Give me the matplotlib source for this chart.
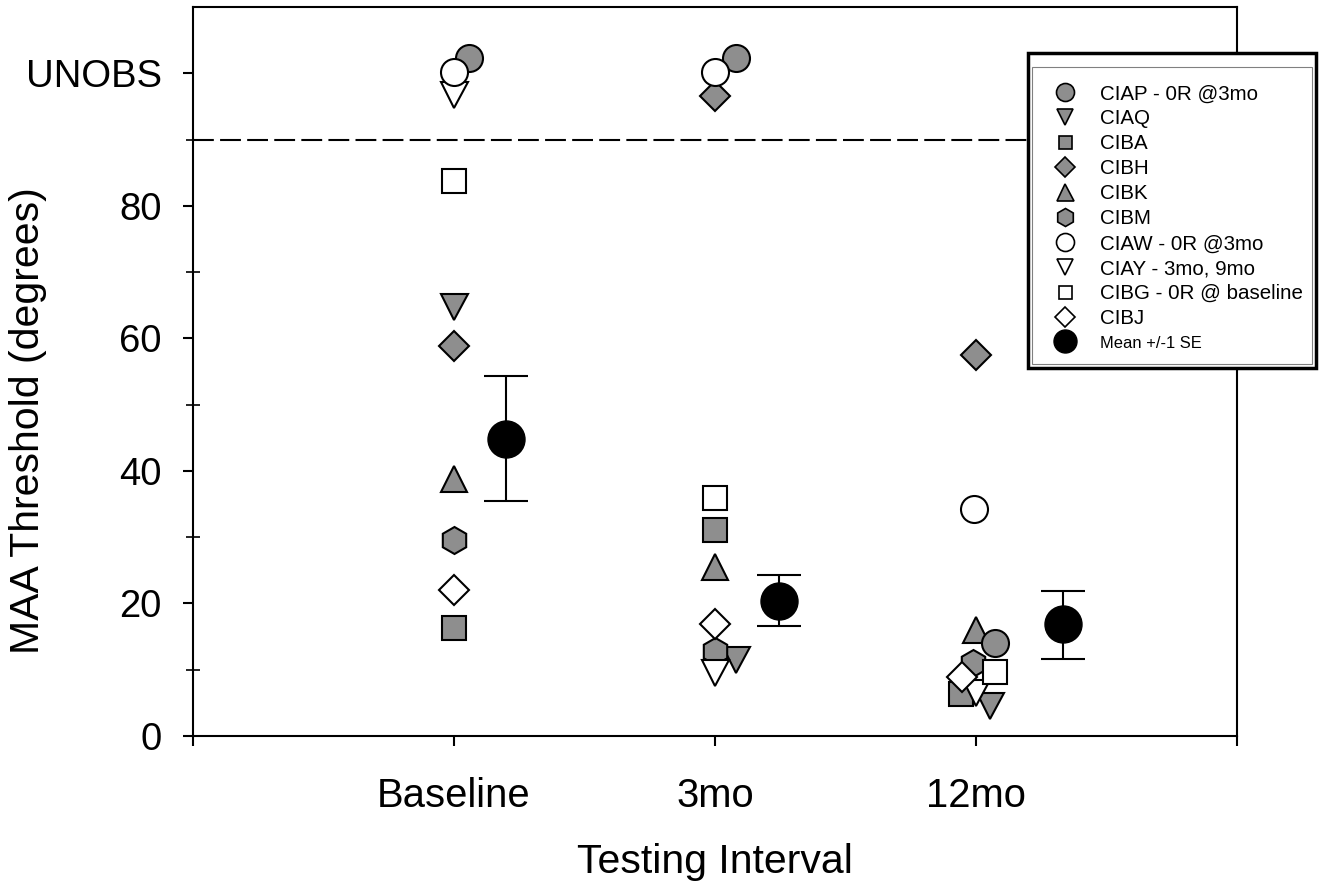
import matplotlib
matplotlib.use("Agg")
import matplotlib.pyplot as plt
from matplotlib.lines import Line2D
from matplotlib.patches import Rectangle

plt.rcParams['font.family'] = ['Liberation Sans', 'DejaVu Sans']

# testing intervals
intervals = ['Baseline', '3mo', '12mo']

# per-subject thresholds (degrees), UNOBS plotted around 100
subjects = ['CIAP - 0R @3mo', 'CIAQ', 'CIBA', 'CIBH', 'CIBK', 'CIBM',
            'CIAW - 0R @3mo', 'CIAY - 3mo, 9mo', 'CIBG - 0R @ baseline', 'CIBJ']
ciap = [102.3, 102.3, 14.0]
ciaq = [64.8, 11.5, 4.5]
ciba = [16.3, 31.1, 6.3]
cibh = [58.9, 96.5, 57.5]
cibk = [38.8, 25.5, 16.0]
cibm = [29.6, 12.8, 11.0]
ciaw = [100.2, 100.2, 34.3]
ciay = [96.7, 9.5, 6.5]
cibg = [83.7, 35.9, 9.7]
cibj = [22.0, 16.9, 8.9]

# group mean +/- 1 SE
mean_vals = [44.8, 20.4, 16.9]
mean_se_hi = [54.3, 24.3, 21.9]
mean_se_lo = [35.5, 16.6, 11.6]

# horizontal jitter used in the original to separate overlapping symbols
jitter = [
    [0.057, 0.08, 0.073],
    [0.0, 0.08, 0.054],
    [0.0, 0.0, -0.057],
    [0.0, 0.0, 0.0],
    [0.0, 0.0, 0.0],
    [0.0, 0.0, -0.01],
    [0.0, 0.0, -0.008],
    [0.0, 0.0, 0.0],
    [0.0, 0.0, 0.073],
    [0.0, 0.0, -0.054],
]
mean_offset = [0.2, 0.245, 0.333]

values = [ciap, ciaq, ciba, cibh, cibk, cibm, ciaw, ciay, cibg, cibj]

PX = 72.0 / 100  # points per pixel at dpi 100
gray = '#8e8e8e'
# marker, face, size in plot (px), size in legend (px), zorder
styles = [
    ('o', gray, 27, 18, 5),
    ('v', gray, 27, 16, 4),
    ('s', gray, 24, 13, 4),
    ('D', gray, 21, 14, 6),
    ('^', gray, 27, 17, 3),
    ('h', gray, 27, 18, 4),
    ('o', 'white', 27, 18, 8),
    ('v', 'white', 27, 16, 7),
    ('s', 'white', 24, 13, 7),
    ('D', 'white', 21, 14, 7),
]

fig = plt.figure(figsize=(13.25, 8.86), dpi=100)
ax = fig.add_axes([193 / 1325, 1 - 736 / 886, (1237 - 193) / 1325, (736 - 7) / 886])

handles = []
for name, vals, jit, (mk, fc, size, lsize, z) in zip(subjects, values, jitter, styles):
    xs = [i + 1 + j for i, j in enumerate(jit)]
    ax.plot(xs, vals, linestyle='none', marker=mk, markersize=size * PX,
            markerfacecolor=fc, markeredgecolor='black',
            markeredgewidth=1.5, zorder=z)
    handles.append(Line2D([], [], linestyle='none', marker=mk,
                          markersize=lsize * PX, markerfacecolor=fc,
                          markeredgecolor='black', markeredgewidth=1.2))

xm = [i + 1 + o for i, o in enumerate(mean_offset)]
yerr = [[m - lo for m, lo in zip(mean_vals, mean_se_lo)],
        [hi - m for m, hi in zip(mean_vals, mean_se_hi)]]
ax.errorbar(xm, mean_vals, yerr=yerr, fmt='o', color='black',
            markersize=37 * PX, elinewidth=1.5, capsize=16, capthick=1.5,
            zorder=9)
handles.append(Line2D([], [], linestyle='none', marker='o', markersize=23 * PX,
                      markerfacecolor='black', markeredgecolor='black'))

ax.axhline(90, color='black', linewidth=1.5, dashes=(10, 3), zorder=1)

ax.set_xlim(0, 4)
ax.set_ylim(0, 110)

ax.set_xticks([0, 1, 2, 3, 4])
ax.set_xticklabels([''] + intervals + [''])
ax.set_yticks([0, 20, 40, 60, 80, 100])
ax.set_yticklabels(['0', '20', '40', '60', '80', 'UNOBS'])
ax.set_yticks([10, 30, 50, 70, 90], minor=True)

ax.tick_params(axis='both', which='major', direction='out', length=7.5,
               width=1.5, labelsize=27.5)
ax.tick_params(axis='y', which='major', pad=15)
ax.tick_params(axis='x', which='major', pad=22, labelsize=28.8)
ax.tick_params(axis='y', which='minor', direction='inout', length=10, width=1.2)

for sp in ax.spines.values():
    sp.set_linewidth(1.5)

ax.set_xlabel('Testing Interval', fontsize=29.5, labelpad=20.5)
ax.set_ylabel('MAA Threshold (degrees)', fontsize=29.5)
ax.yaxis.set_label_coords(-0.140, 0.433)

# legend with SigmaPlot style double frame
W, H = 1325.0, 886.0
fig.patches.append(Rectangle((1028 / W, 1 - 368 / H), 288 / W, 315 / H,
                             transform=fig.transFigure, facecolor='white',
                             edgecolor='black', linewidth=2.5, zorder=5))
fig.patches.append(Rectangle((1032 / W, 1 - 364 / H), 280 / W, 297 / H,
                             transform=fig.transFigure, facecolor='none',
                             edgecolor='#808080', linewidth=0.8, zorder=6))

leg = fig.legend(handles, subjects + ['Mean +/-1 SE'],
                 loc='upper left', bbox_to_anchor=(1044.5 / W, 1 - 84.5 / H),
                 frameon=False, fontsize=14.8,
                 handlelength=2.0, handletextpad=0.7, labelspacing=0.29,
                 borderpad=0, borderaxespad=0, numpoints=1)
leg.set_zorder(7)
leg.get_texts()[-1].set_fontsize(11.9)

fig.savefig('out.png', dpi=100)
